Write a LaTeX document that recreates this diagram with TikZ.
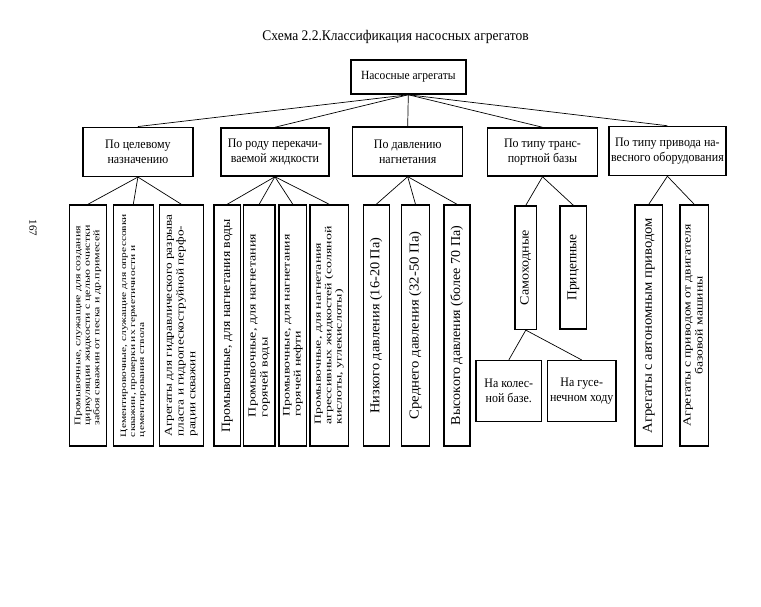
\documentclass[tikz,border=0pt]{standalone}
\usepackage{fontspec}
\setmainfont{Liberation Serif}
\newfontfamily\leaffont[FakeStretch=1.15]{Liberation Serif}
\newfontfamily\narrowfont[FakeStretch=0.92]{Liberation Serif}
\usepackage{tikz}
\usetikzlibrary{positioning}
% rotated text: [align]{length of longest line}{thickness of all lines}{lines}
\newcommand\vtext[4][l]{\rotatebox{90}{\resizebox*{#2pt}{#3pt}{\leaffont\fontsize{10}{11}\selectfont\begin{tabular}{@{}#1@{}}#4\end{tabular}}}}
\tikzset{
	box/.style={draw, line width=1.5pt, inner sep=0pt, align=center, font=\narrowfont\fontsize{13}{15}\selectfont},
	leaf/.style={draw, line width=1.5pt, inner sep=0pt, minimum height=241pt},
	link/.style={line width=0.7pt}
}

\begin{document}
\begin{tikzpicture}[x=1pt, y=-1pt]
			%%%%% START %%%%%
			\useasboundingbox[fill=white] (0, 0) rectangle (761, 606);
			
			\node[font=\narrowfont\fontsize{14.7}{16}\selectfont] (title) at (395.5, 37) {Схема 2.2.Классификация насосных агрегатов};
			\node[rotate=-90, font=\fontsize{11}{12}\selectfont] (page) at (33, 228) {167};
			
			\node[box, minimum width=115pt, minimum height=34pt, font=\narrowfont\fontsize{12.5}{14}\selectfont] (root) at (408.3, 77) {Насосные агрегаты};
			
			\node[box, minimum width=110pt, minimum height=49pt] (aim) at (137.9, 151.8) {По целевому\\назначению};
			\node[box, minimum width=108pt, minimum height=48pt] (fluid) at (274.9, 152) {По роду перекачи-\\ваемой жидкости};
			\node[box, minimum width=110pt, minimum height=49pt] (press) at (407.7, 151.4) {По давлению\\нагнетания};
			\node[box, minimum width=110pt, minimum height=48pt] (base) at (542.5, 152) {По типу транс-\\портной базы};
			\node[box, minimum width=117pt, minimum height=49pt] (drive) at (667.4, 151) {По типу привода на-\\весного оборудования};
			
			\node[leaf, minimum width=37.4pt] (aimA) at (88, 325.5) {\vtext{200}{28.5}{Промывочные, служащие для создания\\циркуляции жидкости с целью очистки\\забоя скважин от песка и др.примесей}};
			\node[leaf, minimum width=40pt] (aimB) at (133.3, 325.5) {\vtext{223}{27}{Цементировочные, служащие для опрессовки\\скважин, проверки их герметичности и\\цементирования ствола}};
			\node[leaf, minimum width=44pt] (aimC) at (181.3, 325.5) {\vtext{222}{35}{Агрегаты для гидравлического разрыва\\пласта и гидропескоструйной перфо-\\рации скважин}};
			
			\node[leaf, minimum width=26.7pt] (fluidA) at (227.3, 325.5) {\vtext{213}{14}{Промывочные, для нагнетания воды}};
			\node[leaf, minimum width=31.7pt] (fluidB) at (259.2, 325.5) {\vtext{183}{24}{Промывочные, для нагнетания\\горячей воды}};
			\node[leaf, minimum width=27.7pt] (fluidC) at (292.8, 325.5) {\vtext{182}{22}{Промывочные, для нагнетания\\горячей нефти}};
			\node[leaf, minimum width=38.3pt] (fluidD) at (329.2, 325.5) {\vtext{198}{31}{Промывочные, для нагнетания\\агрессивных жидкостей (соляной\\кислоты, углекислоты)}};
			
			\node[leaf, minimum width=26pt] (pressA) at (376.3, 325.5) {\vtext{176}{15}{Низкого давления (16-20 Па)}};
			\node[leaf, minimum width=27.6pt] (pressB) at (415.5, 325.5) {\vtext{188}{15}{Среднего давления (32-50 Па)}};
			\node[leaf, minimum width=26pt] (pressC) at (457, 325.5) {\vtext{199}{15}{Высокого давления (более 70 Па)}};
			
			\node[leaf, minimum width=21.7pt, minimum height=123.3pt] (self) at (525.8, 267.7) {\vtext{75}{14}{Самоходные}};
			\node[leaf, minimum width=26.7pt, minimum height=123pt] (trail) at (573.3, 267.5) {\vtext{66}{15}{Прицепные}};
			\node[box, minimum width=65.7pt, minimum height=61pt] (wheel) at (508.8, 391.2) {На колес-\\ной базе.};
			\node[box, minimum width=68.7pt, minimum height=61pt] (track) at (581.7, 391.2) {На гусе-\\нечном ходу};
			
			\node[leaf, minimum width=27.7pt] (driveA) at (648.8, 325.5) {\vtext{215}{15}{Агрегаты с автономным приводом}};
			\node[leaf, minimum width=28.3pt] (driveB) at (694.2, 325.5) {\vtext[c]{202}{24}{Агрегаты с приводом от двигателя\\базовой машины}};
			
			\foreach \child in {aim, fluid, press, base, drive}
				\draw[link] (root.south) -- (\child.north);
			\foreach \child in {aimA, aimB, aimC}
				\draw[link] (aim.south) -- (\child.north);
			\foreach \child in {fluidA, fluidB, fluidC, fluidD}
				\draw[link] (fluid.south) -- (\child.north);
			\foreach \child in {pressA, pressB, pressC}
				\draw[link] (press.south) -- (\child.north);
			\foreach \child in {self, trail}
				\draw[link] (base.south) -- (\child.north);
			\foreach \child in {wheel, track}
				\draw[link] (self.south) -- (\child.north);
			\foreach \child in {driveA, driveB}
				\draw[link] (drive.south) -- (\child.north);
			
			%%%%% END %%%%%
\end{tikzpicture}
\end{document}
